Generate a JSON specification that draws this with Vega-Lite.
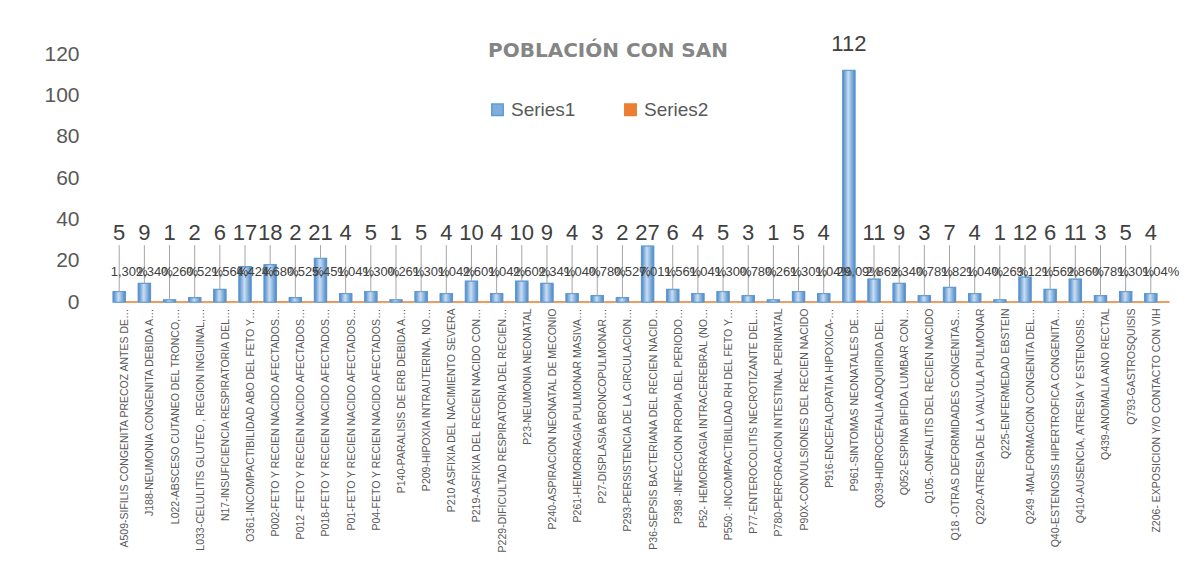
{
  "$schema": "https://vega.github.io/schema/vega-lite/v6.json",
  "autosize": "none",
  "width": 1058,
  "height": 248,
  "padding": {"left": 112, "top": 54, "right": 33, "bottom": 265},
  "background": "white",
  "title": {
    "text": "POBLACIÓN CON SAN",
    "font": "DejaVu Sans",
    "fontSize": 20,
    "fontWeight": "bold",
    "color": "#858585",
    "anchor": "middle",
    "dx": -33,
    "offset": -28
  },
  "config": {
    "view": {"stroke": null},
    "font": "Liberation Sans",
    "locale": {"number": {"decimal": ",", "thousands": ".", "grouping": [3], "currency": ["", " €"]}}
  },
  "data": {
    "values": [
      {"cat": "A509-SIFILIS CONGENITA PRECOZ ANTES DE…", "Series1": 5, "Series2": 0.0130},
      {"cat": "J188-NEUMONIA CONGENITA DEBIDA A…", "Series1": 9, "Series2": 0.0234},
      {"cat": "L022-ABSCESO CUTANEO DEL TRONCO,…", "Series1": 1, "Series2": 0.0026},
      {"cat": "L033-CELULITIS GLUTEO , REGION INGUINAL,…", "Series1": 2, "Series2": 0.0052},
      {"cat": "N17-INSUFICIENCIA RESPIRATORIA DEL…", "Series1": 6, "Series2": 0.0156},
      {"cat": "O361-INCOMPACTIBILIDAD ABO DEL FETO Y…", "Series1": 17, "Series2": 0.0442},
      {"cat": "P002-FETO Y RECIEN NACIDO AFECTADOS…", "Series1": 18, "Series2": 0.0468},
      {"cat": "P012 -FETO Y RECIEN NACIDO AFECTADOS…", "Series1": 2, "Series2": 0.0052},
      {"cat": "P018-FETO Y RECIEN NACIDO AFECTADOS…", "Series1": 21, "Series2": 0.0545},
      {"cat": "P01-FETO Y RECIEN NACIDO AFECTADOS…", "Series1": 4, "Series2": 0.0104},
      {"cat": "P04-FETO Y RECIEN  NACIDO AFECTADOS…", "Series1": 5, "Series2": 0.0130},
      {"cat": "P140-PARALISIS DE ERB DEBIDA A…", "Series1": 1, "Series2": 0.0026},
      {"cat": "P209-HIPOXIA  INTRAUTERINA, NO…", "Series1": 5, "Series2": 0.0130},
      {"cat": "P210 ASFIXIA DEL NACIMIENTO SEVERA", "Series1": 4, "Series2": 0.0104},
      {"cat": "P219-ASFIXIA DEL RECIEN NACIDO CON…", "Series1": 10, "Series2": 0.0260},
      {"cat": "P229-DIFICULTAD RESPIRATORIA DEL RECIEN…", "Series1": 4, "Series2": 0.0104},
      {"cat": "P23-NEUMONIA NEONATAL", "Series1": 10, "Series2": 0.0260},
      {"cat": "P240-ASPIRACION NEONATAL DE MECONIO", "Series1": 9, "Series2": 0.0234},
      {"cat": "P261-HEMORRAGIA PULMONAR MASIVA…", "Series1": 4, "Series2": 0.0104},
      {"cat": "P27-DISPLASIA BRONCOPULMONAR…", "Series1": 3, "Series2": 0.0078},
      {"cat": "P293-PERSISTENCIA DE LA CIRCULACION…", "Series1": 2, "Series2": 0.0052},
      {"cat": "P36-SEPSIS BACTERIANA DEL RECIEN NACIDO…", "Series1": 27, "Series2": 0.0701},
      {"cat": "P398 -INFECCION PROPIA DEL  PERIODO…", "Series1": 6, "Series2": 0.0156},
      {"cat": "P52- HEMORRAGIA INTRACEREBRAL (NO…", "Series1": 4, "Series2": 0.0104},
      {"cat": "P550: -INCOMPACTIBILIDAD  RH  DEL FETO Y…", "Series1": 5, "Series2": 0.0130},
      {"cat": "P77-ENTEROCOLITIS NECROTIZANTE DEL…", "Series1": 3, "Series2": 0.0078},
      {"cat": "P780-PERFORACION INTESTINAL PERINATAL", "Series1": 1, "Series2": 0.0026},
      {"cat": "P90X-CONVULSIONES DEL RECIEN NACIDO", "Series1": 5, "Series2": 0.0130},
      {"cat": "P916-ENCEFALOPATIA HIPOXICA-…", "Series1": 4, "Series2": 0.0104},
      {"cat": "P961-SINTOMAS NEONATALES DE…", "Series1": 112, "Series2": 0.2909},
      {"cat": "Q039-HIDROCEFALIA ADQUIRIDA DEL…", "Series1": 11, "Series2": 0.0286},
      {"cat": "Q052-ESPINA BIFIDA LUMBAR CON…", "Series1": 9, "Series2": 0.0234},
      {"cat": "Q105.-ONFALITIS DEL RECIEN NACIDO", "Series1": 3, "Series2": 0.0078},
      {"cat": "Q18 -OTRAS DEFORMIDADES CONGENITAS…", "Series1": 7, "Series2": 0.0182},
      {"cat": "Q220-ATRESIA DE LA VALVULA PULMONAR", "Series1": 4, "Series2": 0.0104},
      {"cat": "Q225-ENFERMEDAD EBSTEIN", "Series1": 1, "Series2": 0.0026},
      {"cat": "Q249 -MALFORMACION CONGENITA DEL…", "Series1": 12, "Series2": 0.0312},
      {"cat": "Q40-ESTENOSIS HIPERTROFICA CONGENITA…", "Series1": 6, "Series2": 0.0156},
      {"cat": "Q410-AUSENCIA, ATRESIA Y ESTENOSIS…", "Series1": 11, "Series2": 0.0286},
      {"cat": "Q439-ANOMALIA ANO RECTAL", "Series1": 3, "Series2": 0.0078},
      {"cat": "Q793-GASTROSQUISIS", "Series1": 5, "Series2": 0.0130},
      {"cat": "Z206- EXPOSICION Y/O CONTACTO CON VIH", "Series1": 4, "Series2": 0.0104}
    ]
  },
  "encoding": {
    "x": {
      "field": "cat",
      "type": "nominal",
      "sort": null,
      "scale": {"paddingInner": 0.05, "paddingOuter": 0.05},
      "axis": {
        "title": null,
        "labelAngle": -90,
        "labelFontSize": 10.5,
        "labelColor": "#595959",
        "labelLimit": 248,
        "ticks": false,
        "domain": false,
        "labelPadding": 6
      }
    }
  },
  "layer": [
    {
      "transform": [{"fold": ["Series1", "Series2"], "as": ["series", "value"]}],
      "mark": {"type": "bar", "strokeWidth": 1.5},
      "encoding": {
        "xOffset": {"field": "series", "type": "nominal"},
        "y": {
          "field": "value",
          "type": "quantitative",
          "scale": {"domain": [0, 120], "nice": false},
          "axis": {
            "title": null,
            "values": [0, 20, 40, 60, 80, 100, 120],
            "grid": false,
            "domain": false,
            "ticks": false,
            "labelFontSize": 21,
            "labelColor": "#595959",
            "labelPadding": 33
          }
        },
        "color": {
          "field": "series",
          "type": "nominal",
          "scale": {"domain": ["Series1", "Series2"], "range": ["#7FAEDD", "#ED7D31"]},
          "legend": {
            "title": null,
            "orient": "none",
            "direction": "horizontal",
            "legendX": 376,
            "legendY": 46,
            "symbolType": "square",
            "symbolSize": 130,
            "labelFontSize": 19,
            "labelColor": "#595959",
            "columnPadding": 45
          }
        },
        "stroke": {
          "field": "series",
          "type": "nominal",
          "scale": {"domain": ["Series1", "Series2"], "range": ["#5B9BD5", "#ED7D31"]},
          "legend": null
        }
      }
    },
    {
      "mark": {
        "type": "bar",
        "width": 12,
        "xOffset": -6,
        "fill": {
          "gradient": "linear",
          "x1": 0, "x2": 1, "y1": 0, "y2": 0,
          "stops": [
            {"offset": 0, "color": "#4F88C6"},
            {"offset": 0.45, "color": "#C9DEF3"},
            {"offset": 1, "color": "#4F88C6"}
          ]
        },
        "stroke": "#5B9BD5",
        "strokeWidth": 0.8
      },
      "encoding": {
        "y": {"field": "Series1", "type": "quantitative"}
      }
    },
    {
      "transform": [{"filter": "datum.Series1 < 25"}],
      "mark": {"type": "rule", "color": "#A6A6A6", "strokeWidth": 1, "xOffset": -6},
      "encoding": {
        "y": {"field": "Series1", "type": "quantitative"},
        "y2": {"datum": 27.5}
      }
    },
    {
      "transform": [{"filter": "datum.Series1 < 50"}],
      "mark": {"type": "text", "fontSize": 22, "color": "#404040", "baseline": "alphabetic", "dx": -6},
      "encoding": {
        "y": {"datum": 30, "type": "quantitative"},
        "text": {"field": "Series1", "type": "quantitative"}
      }
    },
    {
      "transform": [{"filter": "datum.Series1 >= 50"}],
      "mark": {"type": "text", "fontSize": 22, "color": "#404040", "baseline": "alphabetic", "dx": -6, "dy": -20},
      "encoding": {
        "y": {"field": "Series1", "type": "quantitative"},
        "text": {"field": "Series1", "type": "quantitative"}
      }
    },
    {
      "mark": {"type": "text", "fontSize": 13, "color": "#404040", "baseline": "middle", "dx": 4},
      "encoding": {
        "y": {"datum": 14.5, "type": "quantitative"},
        "text": {"field": "Series2", "type": "quantitative", "format": ".2%"}
      }
    }
  ]
}
